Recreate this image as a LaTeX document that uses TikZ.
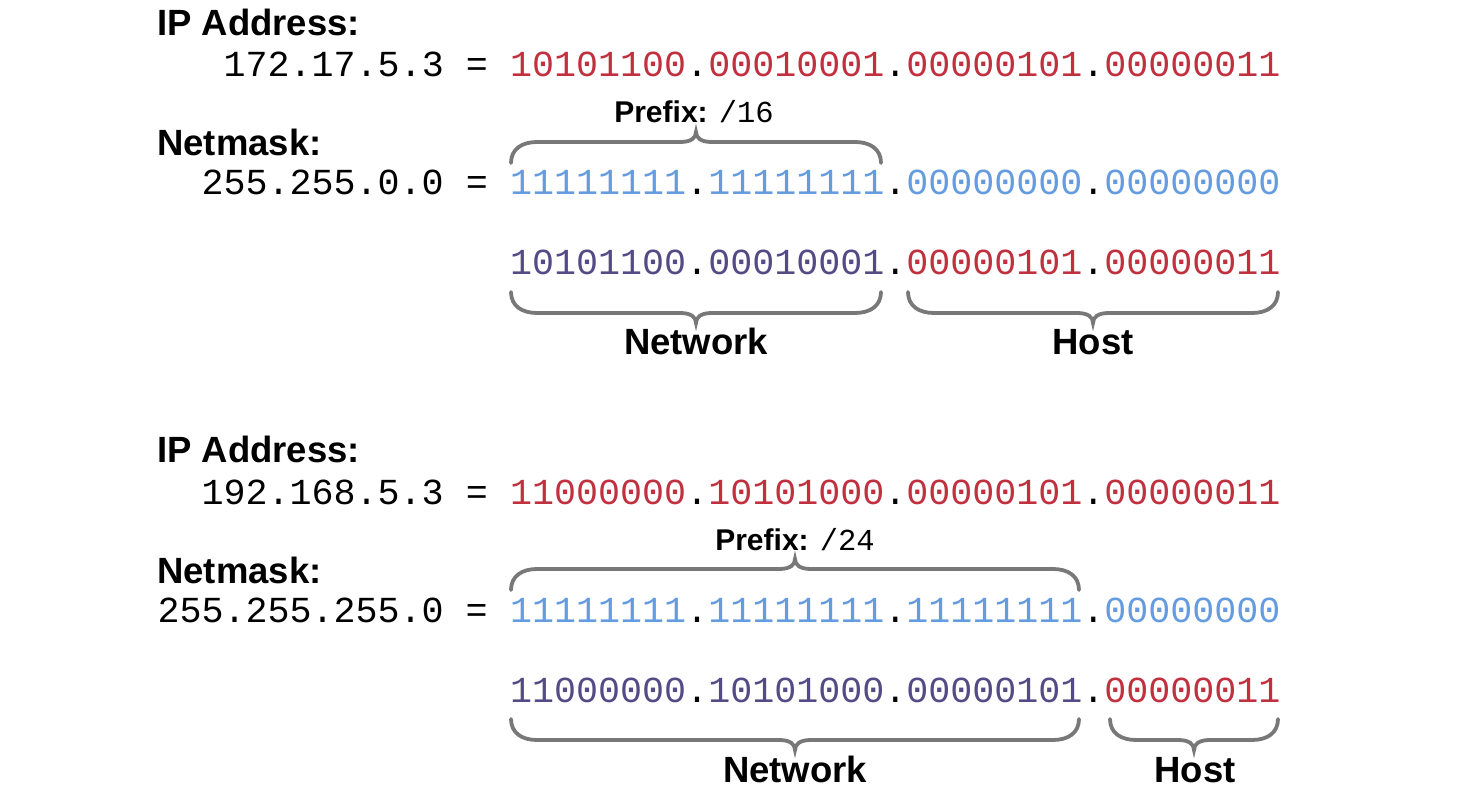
\documentclass[tikz,border=0pt]{standalone}
\usepackage{fontspec}
\setmainfont{Liberation Sans}
\setmonofont{Liberation Mono}
\definecolor{ipred}{HTML}{C1303F}
\definecolor{ipblue}{HTML}{659CE0}
\definecolor{ippurple}{HTML}{544A85}
\definecolor{bracegray}{HTML}{787878}
\newcommand\ipR[1]{\textcolor{ipred}{#1}}
\newcommand\ipB[1]{\textcolor{ipblue}{#1}}
\newcommand\ipP[1]{\textcolor{ippurple}{#1}}
% brace opening downward (over text): x1, x2, y of ends
\newcommand\OverBrace[3]{%
  \pgfmathsetmacro\bm{(#1+#2)/2}%
  \draw[bracestyle] (#1,#3) .. controls (#1,#3-14) and (#1+11,#3-21) .. (#1+26,#3-21)
    -- (\bm-16,#3-21) .. controls (\bm-5,#3-21) and (\bm,#3-25) .. (\bm,#3-31)
    .. controls (\bm,#3-25) and (\bm+5,#3-21) .. (\bm+16,#3-21)
    -- (#2-26,#3-21) .. controls (#2-11,#3-21) and (#2,#3-14) .. (#2,#3);}
% brace opening upward (under text)
\newcommand\UnderBrace[3]{%
  \pgfmathsetmacro\bm{(#1+#2)/2}%
  \draw[bracestyle] (#1,#3) .. controls (#1,#3+14) and (#1+11,#3+21) .. (#1+26,#3+21)
    -- (\bm-16,#3+21) .. controls (\bm-5,#3+21) and (\bm,#3+25) .. (\bm,#3+31)
    .. controls (\bm,#3+25) and (\bm+5,#3+21) .. (\bm+16,#3+21)
    -- (#2-26,#3+21) .. controls (#2-11,#3+21) and (#2,#3+14) .. (#2,#3);}
\tikzset{
  lab/.style={inner sep=0pt, font=\bfseries\fontsize{36.5}{40}\selectfont},
  smalllab/.style={inner sep=0pt, font=\fontsize{30}{32}\selectfont},
  mono/.style={inner sep=0pt, font=\ttfamily\fontsize{36.67}{40}\selectfont},
  bracestyle/.style={draw=bracegray, line width=3.8pt, line cap=round},
}
\begin{document}
\begin{tikzpicture}[x=1pt,y=-1pt]
\useasboundingbox (0,0) rectangle (1481,791);
% ---------- block 1 ----------
\node[lab, anchor=base west] (ipl1) at (157,36) {IP Address:};
\node[mono, anchor=base east] (ipd1) at (488,77) {172.17.5.3 =};
\node[mono, anchor=base west] (ipb1) at (510,77) {\ipR{10101100}.\ipR{00010001}.\ipR{00000101}.\ipR{00000011}};
\node[smalllab, anchor=base] (pre1) at (694,123) {\textbf{Prefix:} {\ttfamily\fontsize{30.5}{32}\selectfont/16}};
\node[lab, anchor=base west] (nml1) at (157,156) {Netmask:};
\node[mono, anchor=base east] (nmd1) at (488,195) {255.255.0.0 =};
\node[mono, anchor=base west] (nmb1) at (510,195) {\ipB{11111111}.\ipB{11111111}.\ipB{00000000}.\ipB{00000000}};
\node[mono, anchor=base west] (res1) at (510,275) {\ipP{10101100}.\ipP{00010001}.\ipR{00000101}.\ipR{00000011}};
\node[lab, anchor=base] (net1) at (696,355) {Network};
\node[lab, anchor=base] (host1) at (1093,355) {Host};
\OverBrace{511}{881}{163}
\UnderBrace{511}{881}{292}
\UnderBrace{908}{1278}{292}
% ---------- block 2 ----------
\node[lab, anchor=base west] (ipl2) at (157,463) {IP Address:};
\node[mono, anchor=base east] (ipd2) at (488,504) {192.168.5.3 =};
\node[mono, anchor=base west] (ipb2) at (510,504) {\ipR{11000000}.\ipR{10101000}.\ipR{00000101}.\ipR{00000011}};
\node[smalllab, anchor=base] (pre2) at (795,550) {\textbf{Prefix:} {\ttfamily\fontsize{30.5}{32}\selectfont/24}};
\node[lab, anchor=base west] (nml2) at (157,583) {Netmask:};
\node[mono, anchor=base east] (nmd2) at (488,622) {255.255.255.0 =};
\node[mono, anchor=base west] (nmb2) at (510,622) {\ipB{11111111}.\ipB{11111111}.\ipB{11111111}.\ipB{00000000}};
\node[mono, anchor=base west] (res2) at (510,702) {\ipP{11000000}.\ipP{10101000}.\ipP{00000101}.\ipR{00000011}};
\node[lab, anchor=base] (net2) at (795,782) {Network};
\node[lab, anchor=base] (host2) at (1195,782) {Host};
\OverBrace{511}{1079}{590}
\UnderBrace{511}{1079}{719}
\UnderBrace{1110}{1278}{719}
\end{tikzpicture}
\end{document}
